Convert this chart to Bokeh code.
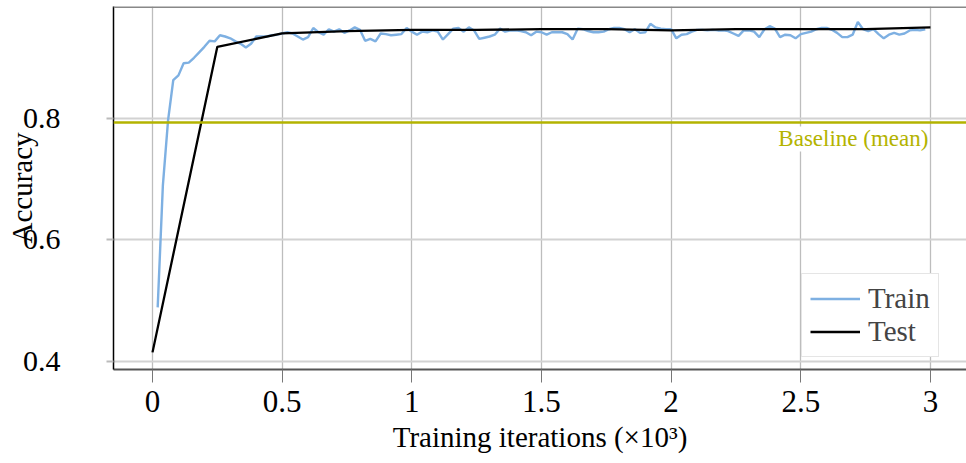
from bokeh.plotting import figure
from bokeh.models import (FixedTicker, Span, Label, Legend, LegendItem, Range1d)
from bokeh.embed import file_html
from bokeh.resources import INLINE

# ---------------- data ----------------
train_iters = [round(0.02 * k, 2) for k in range(1, 150)]  # x grid (×10^3)
train_acc = [
    0.489, 0.690, 0.797, 0.863, 0.871, 0.891, 0.892, 0.900, 0.909, 0.918,
    0.928, 0.927, 0.937, 0.935, 0.932, 0.927, 0.923, 0.917, 0.923, 0.935,
    0.935, 0.935, 0.937, 0.938, 0.940, 0.942, 0.940, 0.935, 0.930, 0.934,
    0.949, 0.942, 0.938, 0.947, 0.943, 0.947, 0.941, 0.945, 0.950, 0.946,
    0.928, 0.931, 0.927, 0.940, 0.939, 0.937, 0.938, 0.939, 0.949, 0.943,
    0.938, 0.943, 0.942, 0.945, 0.943, 0.930, 0.939, 0.948, 0.949, 0.943,
    0.950, 0.945, 0.931, 0.933, 0.935, 0.938, 0.948, 0.943, 0.945, 0.945,
    0.944, 0.942, 0.937, 0.943, 0.942, 0.938, 0.942, 0.942, 0.942, 0.939,
    0.930, 0.948, 0.947, 0.944, 0.942, 0.942, 0.943, 0.947, 0.949, 0.949,
    0.947, 0.942, 0.947, 0.941, 0.942, 0.956, 0.950, 0.948, 0.947, 0.947,
    0.932, 0.938, 0.939, 0.943, 0.946, 0.946, 0.945, 0.946, 0.945, 0.945,
    0.944, 0.940, 0.936, 0.945, 0.945, 0.943, 0.934, 0.947, 0.952, 0.948,
    0.934, 0.938, 0.937, 0.932, 0.939, 0.941, 0.943, 0.947, 0.949, 0.949,
    0.946, 0.941, 0.934, 0.934, 0.938, 0.959, 0.947, 0.944, 0.947, 0.939,
    0.932, 0.938, 0.941, 0.938, 0.940, 0.945, 0.946, 0.945, 0.947,
]
test_iters = [0.0, 0.25, 0.5, 0.75, 1.0, 1.25, 1.5, 1.75, 2.0, 2.25, 2.5, 2.75, 3.0]
test_acc = [0.415, 0.918, 0.940, 0.944, 0.946, 0.946, 0.947, 0.947, 0.945, 0.947, 0.947, 0.947, 0.950]
baseline_acc = 0.7935
baseline_label = "Baseline (mean)"
x_ticks = [0, 0.5, 1, 1.5, 2, 2.5, 3]
x_tick_labels = ["0", "0.5", "1", "1.5", "2", "2.5", "3"]
y_ticks = [0.4, 0.6, 0.8]
y_tick_labels = ["0.4", "0.6", "0.8"]
x_label = "Training iterations (×10³)"
y_label = "Accuracy"

# ---------------- style ----------------
FONT = "Liberation Serif"
TRAIN_COLOR = "#7eb0e2"
BASE_COLOR = "#b3b300"

x0, x1 = -0.1504, 3.1391
y0, y1 = 0.3868, 0.9844

p = figure(width=966, height=463, output_backend="svg", toolbar_location=None,
           x_range=Range1d(x0, x1), y_range=Range1d(y0, y1),
           min_border_left=113, min_border_right=0, min_border_top=6, min_border_bottom=94)
p.outline_line_color = None
p.background_fill_color = "white"
p.border_fill_color = "white"

# grids
p.xgrid.grid_line_color = "#bdbdbd"
p.xgrid.grid_line_width = 1.3
p.ygrid.grid_line_color = "#d2d2d2"
p.ygrid.grid_line_width = 2

# axes
p.xaxis.ticker = FixedTicker(ticks=x_ticks)
p.xaxis.major_label_overrides = {t: l for t, l in zip(x_ticks, x_tick_labels)}
p.yaxis.ticker = FixedTicker(ticks=y_ticks)
p.yaxis.major_label_overrides = {t: l for t, l in zip(y_ticks, y_tick_labels)}
for ax in (p.xaxis, p.yaxis):
    ax.major_label_text_font = FONT
    ax.major_label_text_color = "black"
    ax.minor_tick_line_color = None
    ax.major_tick_in = 0
    ax.axis_label_text_font = FONT
    ax.axis_label_text_font_size = "29px"
    ax.axis_label_text_font_style = "normal"
    ax.axis_label_text_color = "black"
p.xaxis.major_label_text_font_size = "31px"
p.yaxis.major_label_text_font_size = "30px"
p.xaxis.axis_line_color = "#555555"
p.xaxis.axis_line_width = 2
p.xaxis.major_tick_out = 13
p.xaxis.major_tick_line_color = "#777777"
p.xaxis.major_label_standoff = 8
p.xaxis.axis_label = x_label
p.xaxis.axis_label_standoff = 6
p.yaxis.axis_line_color = "black"
p.yaxis.axis_line_width = 1.5
p.yaxis.major_tick_out = 7
p.yaxis.major_tick_line_color = "#bbbbbb"
p.yaxis.major_tick_line_width = 2
p.yaxis.major_label_standoff = 46
p.yaxis.axis_label = y_label
p.yaxis.axis_label_standoff = -18

# top border
p.add_layout(Span(location=y1, dimension="width", line_color="#888888", line_width=3))

# baseline
p.add_layout(Span(location=baseline_acc, dimension="width", line_color=BASE_COLOR, line_width=2.5))
p.add_layout(Label(x=3.0, y=baseline_acc, text=baseline_label, text_align="right", text_baseline="top",
                   x_offset=-2, y_offset=-4, text_font=FONT, text_font_size="23px", text_color=BASE_COLOR,
                   background_fill_color="white", background_fill_alpha=1.0))

# lines
r_train = p.line(train_iters, train_acc, line_color=TRAIN_COLOR, line_width=2.4)
r_test = p.line(test_iters, test_acc, line_color="black", line_width=2.3)

legend = Legend(items=[LegendItem(label="Train", renderers=[r_train]),
                       LegendItem(label="Test", renderers=[r_test])],
                location=(688, 12))
legend.label_text_font = FONT
legend.label_text_font_size = "29px"
legend.glyph_width = 50
legend.glyph_height = 29
legend.label_height = 29
legend.label_standoff = 8
legend.spacing = 0
legend.padding = 8
legend.margin = 0
legend.border_line_color = "#cccccc"
legend.border_line_width = 1.5
legend.background_fill_color = "white"
legend.background_fill_alpha = 1.0
p.add_layout(legend)

open("out.html", "w").write(file_html(p, INLINE))
